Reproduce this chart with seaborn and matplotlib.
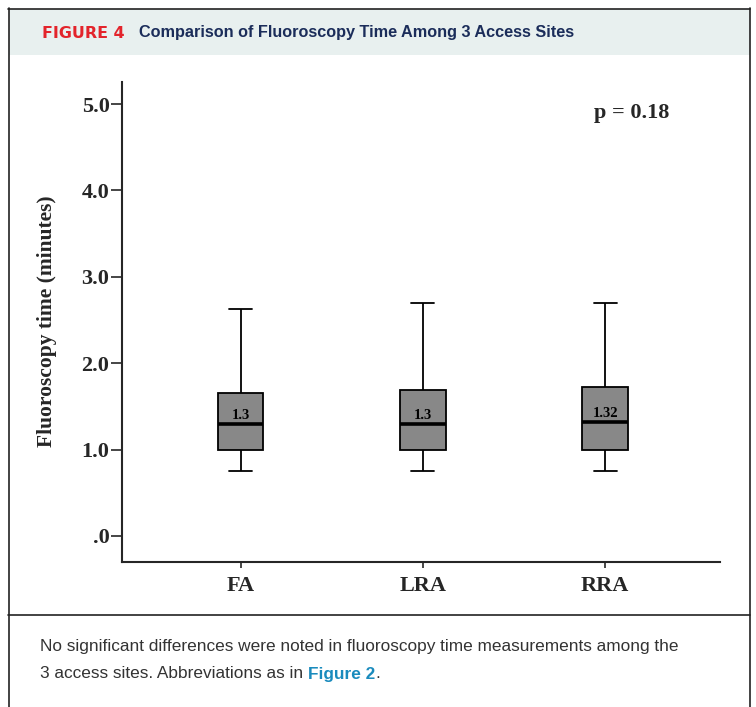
import matplotlib
matplotlib.use("Agg")
import matplotlib.pyplot as plt
import matplotlib.patches as mpatches
import matplotlib.lines as mlines
import numpy as np
import pandas as pd
import seaborn as sns

# ---- data (five-number summaries) ----
sites = ["FA", "LRA", "RRA"]
whisker_low = [0.75, 0.75, 0.75]
q1 = [1.0, 1.0, 1.0]
medians = [1.3, 1.3, 1.32]
q3 = [1.65, 1.69, 1.72]
whisker_high = [2.63, 2.70, 2.70]
median_labels = ["1.3", "1.3", "1.32"]
ytick_values = [0, 1, 2, 3, 4, 5]
ytick_labels = [".0", "1.0", "2.0", "3.0", "4.0", "5.0"]
p_text = "p = 0.18"

rows = []
for i, s in enumerate(sites):
    for v in (whisker_low[i], q1[i], medians[i], q3[i], whisker_high[i]):
        rows.append({"site": s, "value": v})
df = pd.DataFrame(rows)

sns.set_style("ticks")
W, H = 756, 707
fig = plt.figure(figsize=(W / 100, H / 100), dpi=100)

def fx(px):
    return px / W

def fy(py):
    return 1 - py / H

serif = ["Liberation Serif", "DejaVu Serif"]
sans = ["Liberation Sans", "DejaVu Sans"]

# ---- frame / header ----
fig.add_artist(mpatches.Rectangle((fx(9), fy(55)), fx(741), (46) / H,
                                  transform=fig.transFigure, facecolor="#e8f0ef",
                                  edgecolor="none", zorder=0))
lc = "#222222"
for (x0, y0, x1, y1) in [(8, 8.5, 750, 8.5), (8.5, 8, 8.5, 707), (749.5, 8, 749.5, 707),
                         (8, 615, 750, 615)]:
    fig.add_artist(mlines.Line2D([fx(x0), fx(x1)], [fy(y0), fy(y1)],
                                 transform=fig.transFigure, color=lc, linewidth=1.2))

# ---- axes ----
ax = fig.add_axes([fx(122), fy(562), fx(720) - fx(122), (562 - 82) / H])
sns.boxplot(data=df, x="site", y="value", ax=ax, whis=(0, 100), width=0.25,
            color="#888888", saturation=1, linecolor="black", linewidth=1.3,
            medianprops=dict(linewidth=2.6, color="black"))
ax.set_xlim(-0.65, 2.63)
ax.set_ylim(-0.301, 5.255)
ax.set_yticks(ytick_values)
ax.set_yticklabels(ytick_labels, fontfamily=serif, fontweight="bold", fontsize=16)
ax.set_xticks(range(len(sites)))
ax.set_xticklabels(sites, fontfamily=serif, fontweight="bold", fontsize=16)
ax.tick_params(axis="y", direction="out", length=8, width=1.2, pad=1)
ax.tick_params(axis="x", direction="out", length=4, width=1.2, pad=6)
ax.set_xlabel("")
ax.set_ylabel("")
sns.despine(ax=ax)
for sp in ("left", "bottom"):
    ax.spines[sp].set_linewidth(1.5)

for i, lab in enumerate(median_labels):
    ax.text(i, medians[i] + 0.025, lab, ha="center", va="bottom", fontsize=10.5,
            fontfamily=serif, fontweight="bold", color="black")

fig.text(fx(47), fy(321), "Fluoroscopy time (minutes)", rotation=90, ha="center",
         va="center", fontsize=15.5, fontfamily=serif, fontweight="bold")
fig.text(fx(632), fy(113), p_text, ha="center", va="center", fontsize=16,
         fontfamily=serif, fontweight="bold")

# ---- header text ----
fig.canvas.draw()
r = fig.canvas.get_renderer()
t1 = fig.text(fx(42), fy(33), "FIGURE 4", ha="left", va="center", fontsize=11.4,
              fontfamily=["DejaVu Sans"], fontweight="bold", color="#e3242b")
bb = t1.get_window_extent(r)
fig.text((bb.x1 + 14) / W, fy(33),
         "Comparison of Fluoroscopy Time Among 3 Access Sites", ha="left",
         va="center", fontsize=11.7, fontfamily=sans, fontweight="bold",
         color="#1b2d5a")

# ---- caption ----
cap_col = "#333333"
fig.text(fx(40), fy(647),
         "No significant differences were noted in fluoroscopy time measurements among the",
         ha="left", va="center", fontsize=12.4, fontfamily=sans, color=cap_col)
c1 = fig.text(fx(40), fy(674), "3 access sites. Abbreviations as in ", ha="left",
              va="center", fontsize=12.4, fontfamily=sans, color=cap_col)
b1 = c1.get_window_extent(r)
c2 = fig.text(b1.x1 / W, fy(674), "Figure 2", ha="left", va="center", fontsize=12.4,
              fontfamily=sans, fontweight="bold", color="#1a8bbd")
b2 = c2.get_window_extent(r)
fig.text(b2.x1 / W, fy(674), ".", ha="left", va="center", fontsize=12.4,
         fontfamily=sans, color=cap_col)

fig.savefig("out.png", dpi=100)
